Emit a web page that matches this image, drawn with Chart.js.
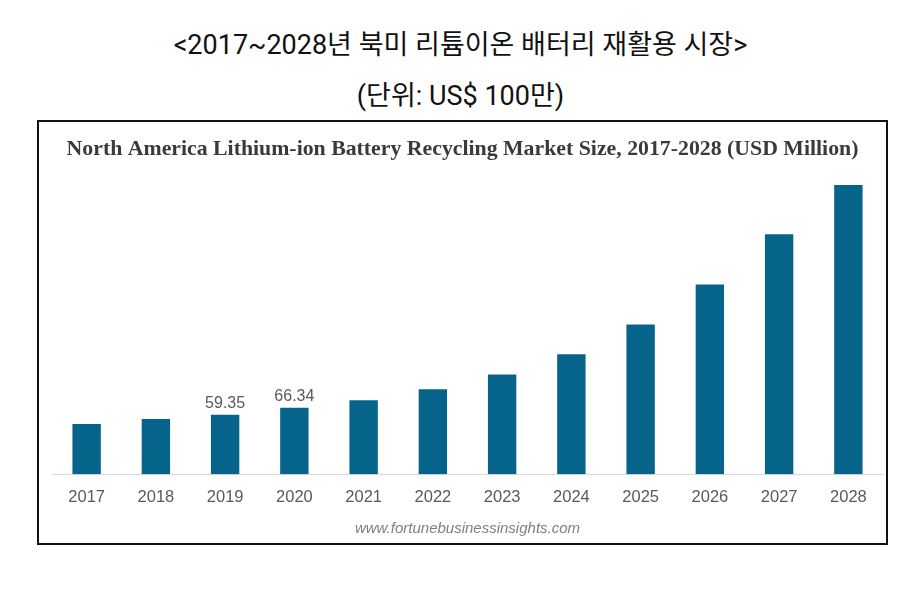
<!DOCTYPE html>
<html>
<head>
<meta charset="utf-8">
<script src="https://cdn.jsdelivr.net/npm/chart.js@4.4.1/dist/chart.umd.min.js"></script>
<style>
  html, body { margin: 0; padding: 0; background: #ffffff; }
  body { width: 921px; height: 601px; position: relative; overflow: hidden; }
  .ktitle { position: absolute; left: 0; width: 921px; text-align: center; color: #111111;
            font-family: Roboto, "Noto Sans CJK KR", sans-serif; font-size: 27px; line-height: 30px; }
  #t1 { top: 30px; }
  #t2 { top: 81px; }
  #frame { position: absolute; left: 37px; top: 120px; width: 847px; height: 421px;
           border: 2px solid #111111; }
  #frame canvas { display: block; }
</style>
</head>
<body>
<div class="ktitle" id="t1">&lt;2017~2028년 북미 리튬이온 배터리 재활용 시장&gt;</div>
<div class="ktitle" id="t2">(단위: US$ 100만)</div>
<div id="frame"><canvas id="c" width="847" height="421"></canvas></div>
<script>
const years = ['2017','2018','2019','2020','2021','2022','2023','2024','2025','2026','2027','2028'];
const marketSize = [50.0, 55.0, 59.35, 66.34, 73.7, 84.7, 99.4, 119.7, 149.4, 189.4, 239.4, 288.7];
const showValueLabel = [false, false, true, true, false, false, false, false, false, false, false, false];
const chartTitle = 'North America Lithium-ion Battery Recycling Market Size, 2017-2028 (USD Million)';
const sourceText = 'www.fortunebusinessinsights.com';

const valueLabels = {
  id: 'valueLabels',
  afterDatasetsDraw(chart) {
    const ctx = chart.ctx;
    const meta = chart.getDatasetMeta(0);
    ctx.save();
    ctx.font = '16px "Liberation Sans", Arial, sans-serif';
    ctx.fillStyle = '#595959';
    ctx.textAlign = 'center';
    ctx.textBaseline = 'bottom';
    meta.data.forEach((bar, i) => {
      if (!showValueLabel[i]) return;
      ctx.fillText(marketSize[i].toFixed(2), bar.x, bar.y - 3);
    });
    ctx.restore();
  }
};

new Chart(document.getElementById('c'), {
  type: 'bar',
  data: {
    labels: years,
    datasets: [{
      data: marketSize,
      backgroundColor: '#06648a',
      borderWidth: 0,
      categoryPercentage: 1.0,
      barPercentage: 0.41
    }]
  },
  options: {
    responsive: false,
    animation: false,
    events: [],
    layout: { padding: { left: 3, right: 3, top: 0, bottom: 0 } },
    plugins: {
      legend: { display: false },
      tooltip: { enabled: false },
      title: {
        display: true,
        text: chartTitle,
        color: '#3a3a3a',
        font: { family: '"Liberation Serif", "Times New Roman", serif', size: 21.8, weight: 'bold', lineHeight: 1.2 },
        padding: { top: 14, bottom: 11.5 }
      }
    },
    scales: {
      x: {
        grid: { display: false },
        border: { display: true, color: '#d9d9d9', width: 1 },
        ticks: {
          color: '#595959',
          font: { family: '"Liberation Sans", Arial, sans-serif', size: 16.5, lineHeight: 1.2 },
          padding: 5,
          maxRotation: 0
        },
        title: {
          display: true,
          text: sourceText,
          color: '#7f7f7f',
          font: { family: '"Liberation Sans", Arial, sans-serif', size: 15, style: 'italic', lineHeight: 1.2 },
          padding: { top: 8, bottom: 5 }
        }
      },
      y: {
        display: true,
        min: 0,
        max: 300,
        ticks: { display: false },
        grid: { display: false },
        border: { display: false },
        afterFit(scale) { scale.width = 10; }
      }
    }
  },
  plugins: [valueLabels]
});
</script>
</body>
</html>
